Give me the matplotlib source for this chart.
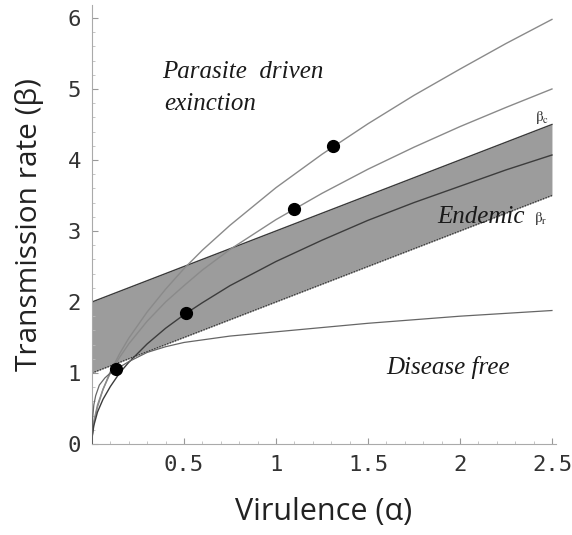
import matplotlib
matplotlib.use('Agg')
import matplotlib.pyplot as plt
from matplotlib.ticker import MultipleLocator

plt.rcParams['mathtext.fontset'] = 'stix'

# curves (alpha = virulence, beta = transmission rate)
alpha_pts = [0, 0.002, 0.01, 0.03, 0.06, 0.1, 0.15, 0.2, 0.3, 0.4, 0.5, 0.6, 0.75,
             1.0, 1.25, 1.5, 1.75, 2.0, 2.25, 2.5]
beta_top = [0, 0.12, 0.29, 0.52, 0.77, 1.02, 1.27, 1.49, 1.86, 2.18, 2.47, 2.73, 3.08,
            3.61, 4.08, 4.51, 4.91, 5.28, 5.64, 5.98]
beta_c = [0, 0.14, 0.32, 0.55, 0.77, 1.00, 1.22, 1.41, 1.73, 2.00, 2.23, 2.45, 2.74,
          3.16, 3.53, 3.87, 4.18, 4.47, 4.74, 5.00]
beta_mid = [0, 0.12, 0.26, 0.45, 0.63, 0.81, 1.00, 1.15, 1.41, 1.63, 1.82, 1.99, 2.23,
            2.57, 2.87, 3.15, 3.40, 3.63, 3.86, 4.07]

alpha_low = [0, 0.003, 0.01, 0.02, 0.04, 0.07, 0.1, 0.13, 0.2, 0.3, 0.4, 0.5, 0.75,
             1.0, 1.25, 1.5, 1.75, 2.0, 2.25, 2.5]
beta_low = [0, 0.35, 0.55, 0.68, 0.83, 0.93, 1.00, 1.05, 1.16, 1.29, 1.37, 1.43, 1.52,
            1.58, 1.64, 1.70, 1.75, 1.80, 1.84, 1.88]

# endemic band
band_alpha = [0, 2.5]
band_upper = [2, 4.5]
band_lower = [1, 3.5]

# marked points
dot_alpha = [0.13, 0.51, 1.10, 1.31]
dot_beta = [1.05, 1.84, 3.31, 4.19]

xticks = [0.5, 1, 1.5, 2, 2.5]
xticklabels = ['0.5', '1', '1.5', '2', '2.5']
yticks = [0, 1, 2, 3, 4, 5, 6]

fig = plt.figure(figsize=(5.72, 5.35), dpi=100)
ax = fig.add_axes([0.1608, 0.1701, 0.8106, 0.8202])

ax.fill_between(band_alpha, band_lower, band_upper, color='#9c9c9c', lw=0, zorder=1)
ax.plot(band_alpha, band_upper, color='#3a3a3a', lw=1.0, zorder=2)
ax.plot(band_alpha, band_lower, color='#3a3a3a', lw=1.0, ls=(0, (1, 1)), zorder=2)

ax.plot(alpha_pts, beta_top, color='#8a8a8a', lw=1.0, zorder=3)
ax.plot(alpha_pts, beta_c, color='#8a8a8a', lw=1.0, zorder=3)
ax.plot(alpha_pts, beta_mid, color='#3c3c3c', lw=1.0, zorder=3)
ax.plot(alpha_low, beta_low, color='#666666', lw=0.9, zorder=3)

ax.plot(dot_alpha, dot_beta, 'o', color='black', ms=8.5, zorder=4)

serif = dict(family='Liberation Serif', style='italic', color='#1a1a1a')
ax.text(0.38, 5.15, 'Parasite  driven', fontsize=18, **serif)
ax.text(0.39, 4.70, 'exinction', fontsize=18, **serif)
ax.text(1.875, 3.11, 'Endemic', fontsize=18, **serif)
ax.text(1.60, 0.99, 'Disease free', fontsize=18, **serif)
ax.text(2.40, 3.12, r'$\mathrm{\beta_r}$', fontsize=11, color='#333333')
ax.text(2.41, 4.55, r'$\mathrm{\beta_c}$', fontsize=11, color='#333333')

ax.set_xlim(0, 2.52)
ax.set_ylim(0, 6.18)
ax.set_xticks(xticks)
ax.set_xticklabels(xticklabels)
ax.set_yticks(yticks)
ax.xaxis.set_minor_locator(MultipleLocator(0.1))
ax.yaxis.set_minor_locator(MultipleLocator(0.2))
for lab in ax.get_xticklabels() + ax.get_yticklabels():
    lab.set_family('DejaVu Sans Mono')
    lab.set_fontsize(16)
    lab.set_color('#333333')
ax.tick_params(which='major', direction='in', length=4, width=0.8, color='#999999', pad=8)
ax.tick_params(which='minor', direction='in', length=2, width=0.6, color='#bbbbbb')

for side in ['top', 'right']:
    ax.spines[side].set_visible(False)
for side in ['left', 'bottom']:
    ax.spines[side].set_color('#aaaaaa')
    ax.spines[side].set_linewidth(0.8)

ax.set_xlabel('Virulence (α)', fontsize=22, family='Open Sans', color='#222222', labelpad=16)
ax.set_ylabel('Transmission rate (β)', fontsize=21.5, family='Open Sans', color='#222222', labelpad=17)

fig.savefig('out.png', dpi=100)
